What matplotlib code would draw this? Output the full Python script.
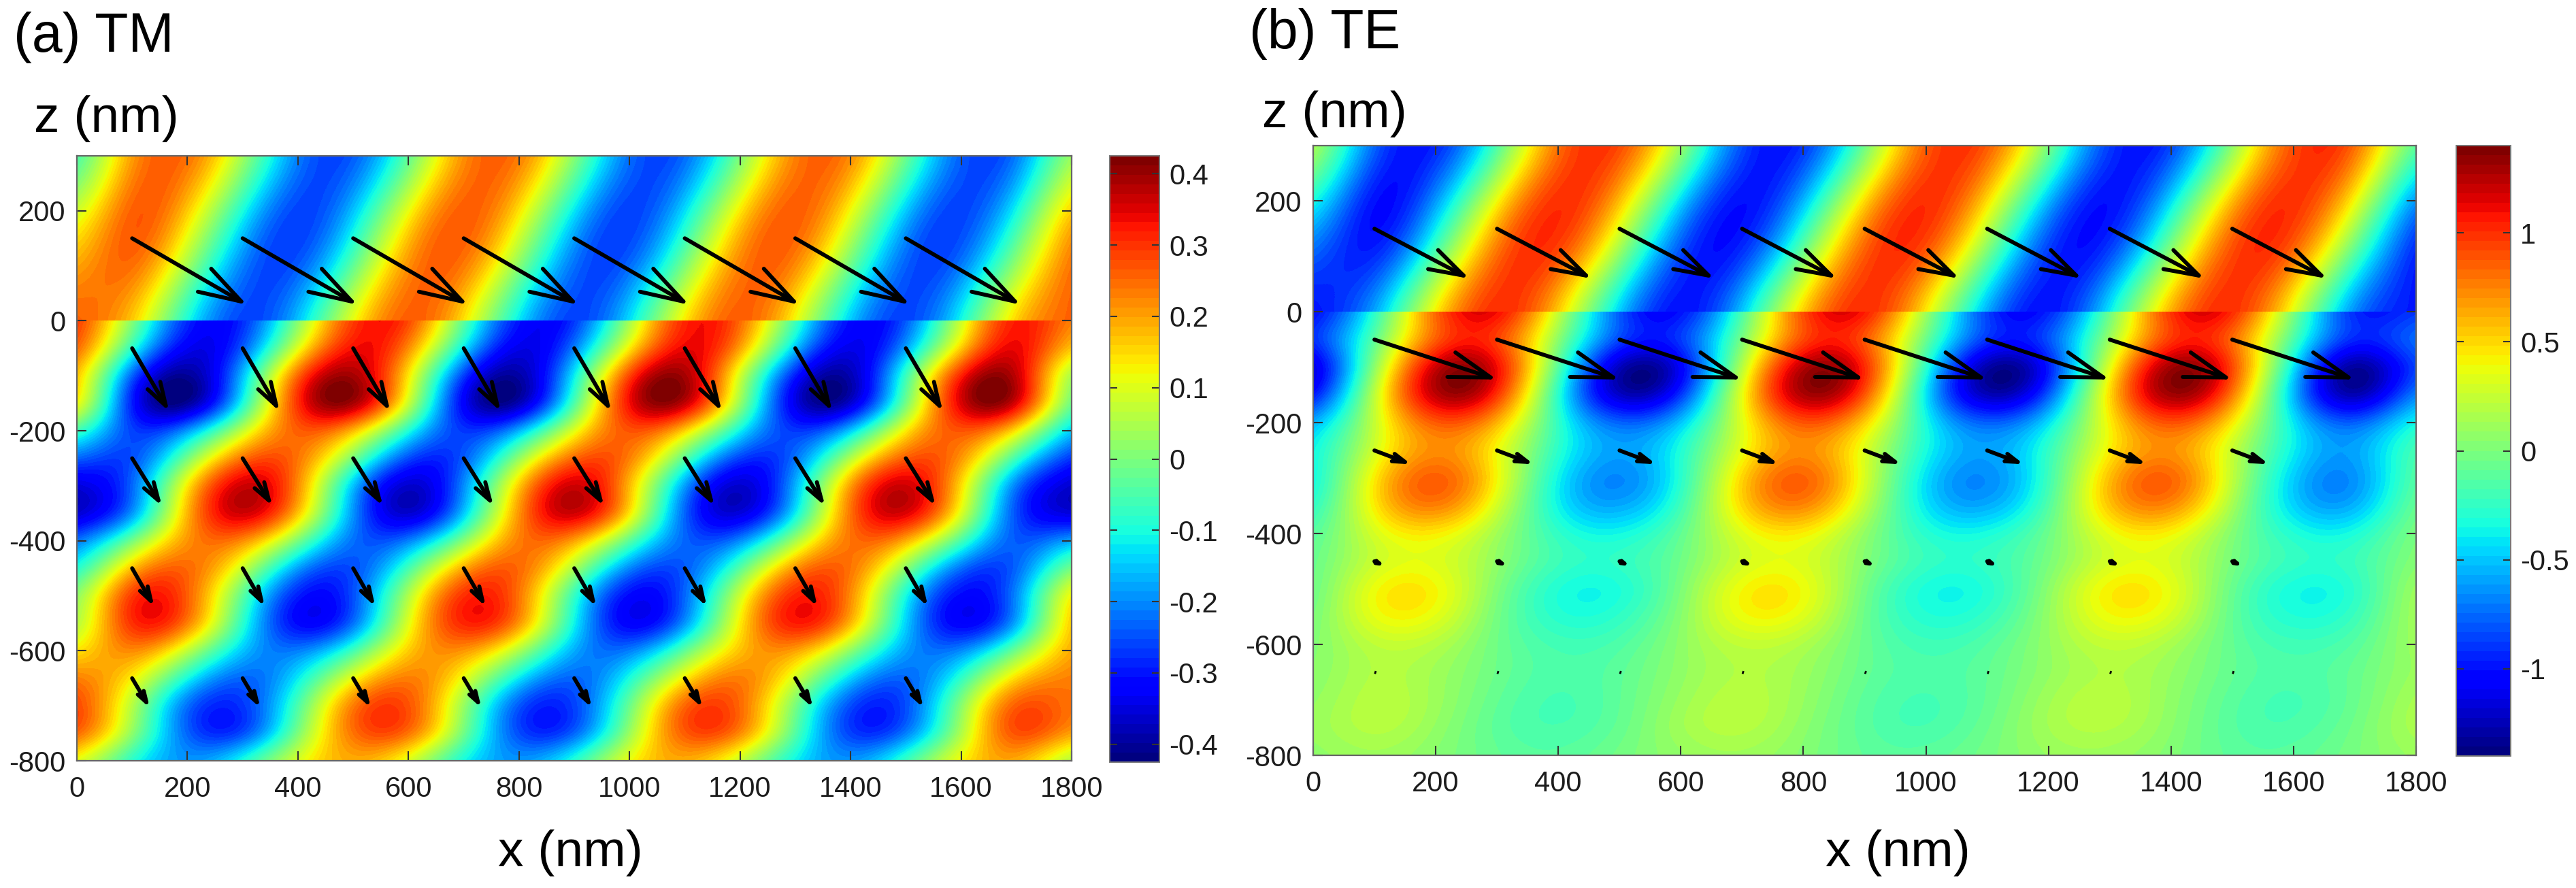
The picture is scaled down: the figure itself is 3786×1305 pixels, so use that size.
import numpy as np
import matplotlib
matplotlib.use("Agg")
import matplotlib.pyplot as plt
from matplotlib.patches import Rectangle

plt.rcParams['font.family'] = ['Liberation Sans', 'DejaVu Sans']
plt.rcParams['axes.unicode_minus'] = False

W, H = 3787, 1305

x_ticks = [0, 200, 400, 600, 800, 1000, 1200, 1400, 1600, 1800]
z_ticks = [-800, -600, -400, -200, 0, 200]
cb_ticks_a = [-0.4, -0.3, -0.2, -0.1, 0, 0.1, 0.2, 0.3, 0.4]
cb_labels_a = ['-0.4', '-0.3', '-0.2', '-0.1', '0', '0.1', '0.2', '0.3', '0.4']
cb_ticks_b = [-1, -0.5, 0, 0.5, 1]
cb_labels_b = ['-1', '-0.5', '0', '0.5', '1']

# field samples: columns x = 0..1800 step 100
# upper block rows z = 300, 200, 100, 0
tm_upper = [
 [-.05, .20, .244, .04, -.205, -.24, -.03, .213, .234, .014, -.22, -.227, .00, .227, .22, -.014, -.234, -.213, .027],
 [.082, .256, .165, -.095, -.258, -.155, .108, .259, .144, -.12, -.26, -.132, .132, .26, .12, -.144, -.259, -.108, .155],
 [.196, .244, .04, -.205, -.24, -.03, .213, .234, .014, -.22, -.227, .00, .227, .22, -.014, -.234, -.213, .027, .239],
 [.256, .165, -.095, -.258, -.155, .108, .259, .144, -.12, -.26, -.132, .132, .26, .12, -.144, -.259, -.108, .155, .258],
]
# lower block rows z = 0, -50, ..., -800
tm_lower = [
 [.29, .01, -.28, -.28, .01, .29, .28, -.03, -.30, -.27, .04, .31, .25, -.06, -.31, -.24, .08, .32, .23],
 [.25, -.08, -.33, -.24, .10, .33, .22, -.12, -.34, -.21, .13, .34, .20, -.15, -.34, -.18, .16, .34, .17],
 [.17, -.23, -.40, -.16, .25, .39, .14, -.26, -.39, -.12, .28, .39, .09, -.29, -.38, -.07, .31, .37, .05],
 [.12, -.29, -.40, -.10, .30, .39, .08, -.32, -.38, -.05, .33, .37, .03, -.34, -.36, -.01, .35, .35, -.01],
 [-.06, -.26, -.19, .07, .26, .18, -.09, -.27, -.17, .10, .27, .16, -.11, -.27, -.15, .13, .27, .14, -.14],
 [-.23, -.25, -.01, .24, .24, .00, -.25, -.24, .02, .25, .23, -.03, -.26, -.22, .05, .26, .21, -.06, -.27],
 [-.35, -.23, .13, .36, .22, -.15, -.36, -.20, .16, .36, .18, -.18, -.36, -.17, .20, .36, .15, -.21, -.36],
 [-.36, -.19, .18, .36, .17, -.19, -.36, -.15, .21, .36, .14, -.23, -.35, -.12, .24, .35, .10, -.25, -.35],
 [-.22, -.01, .21, .22, .00, -.22, -.21, .01, .23, .20, -.03, -.23, -.20, .04, .24, .19, -.05, -.24, -.18],
 [-.09, .17, .25, .08, -.18, -.25, -.06, .19, .25, .05, -.20, -.24, -.04, .21, .24, .02, -.22, -.23, -.01],
 [.02, .29, .26, -.03, -.29, -.25, .05, .30, .24, -.07, -.31, -.23, .08, .31, .22, -.10, -.31, -.20, .12],
 [.06, .30, .23, -.08, -.31, -.22, .10, .31, .21, -.11, -.32, -.19, .13, .32, .18, -.14, -.32, -.17, .16],
 [.14, .22, .07, -.15, -.21, -.06, .16, .21, .05, -.17, -.21, -.03, .17, .20, .02, -.18, -.20, -.01, .19],
 [.23, .13, -.10, -.23, -.12, .11, .23, .11, -.12, -.23, -.10, .13, .23, .09, -.14, -.23, -.08, .15, .23],
 [.28, .06, -.22, -.27, -.05, .23, .27, .03, -.24, -.26, -.02, .25, .25, .00, -.25, -.25, .01, .26, .24],
 [.25, .02, -.23, -.25, .00, .24, .24, -.01, -.25, -.23, .03, .26, .22, -.04, -.26, -.21, .05, .27, .20],
 [.11, -.08, -.19, -.10, .09, .19, .10, -.10, -.19, -.09, .11, .19, .08, -.11, -.19, -.07, .12, .19, .06],
]
te_upper = [
 [.15, -.75, -.94, -.16, .79, .92, .11, -.82, -.90, -.05, .85, .87, .00, -.87, -.85, .05, .90, .82, -.10],
 [-.33, -.99, -.62, .38, .99, .58, -.43, -1.0, -.54, .48, 1.0, .49, -.52, -1.0, -.44, .57, .99, .40, -.61],
 [-.78, -.92, -.12, .81, .90, .06, -.84, -.88, -.01, .87, .85, -.04, -.89, -.82, .10, .92, .79, -.15, -.94],
 [-.99, -.59, .42, 1.0, .54, -.47, -1.0, -.50, .52, 1.0, .45, -.56, -1.0, -.40, .61, .99, .35, -.65, -.98],
]
te_lower = [
 [-1.02, -.27, .83, 1.10, .24, -.79, -.99, -.16, .91, 1.06, .12, -.86, -.94, -.05, .98, 1.01, .00, -.92, -.89],
 [-.92, -.11, .86, .95, .06, -.85, -.88, -.01, .92, .89, -.05, -.90, -.82, .11, .97, .83, -.16, -.94, -.76],
 [-1.14, .05, 1.19, 1.10, -.12, -1.22, -1.06, .19, 1.24, 1.01, -.26, -1.27, -.97, .33, 1.29, .92, -.40, -1.30, -.86],
 [-.98, .21, 1.22, .98, -.27, -1.20, -.89, .35, 1.26, .88, -.40, -1.23, -.79, .48, 1.29, .77, -.52, -1.25, -.69],
 [-.56, .24, .87, .61, -.25, -.77, -.50, .33, .89, .53, -.33, -.78, -.43, .42, .90, .45, -.40, -.78, -.36],
 [-.36, .29, .72, .40, -.27, -.60, -.31, .36, .72, .33, -.33, -.60, -.25, .43, .71, .26, -.38, -.59, -.19],
 [-.34, .43, .85, .40, -.36, -.66, -.28, .50, .84, .31, -.42, -.65, -.21, .57, .83, .23, -.47, -.63, -.14],
 [-.25, .43, .75, .29, -.36, -.57, -.20, .49, .73, .22, -.40, -.56, -.14, .55, .71, .14, -.45, -.54, -.08],
 [-.12, .30, .44, .13, -.25, -.35, -.09, .33, .43, .08, -.28, -.33, -.05, .36, .41, .03, -.30, -.32, -.01],
 [-.06, .26, .33, .07, -.21, -.25, -.04, .28, .32, .03, -.23, -.24, -.01, .30, .30, -.01, -.24, -.22, .03],
 [-.04, .37, .40, .02, -.30, -.31, .00, .39, .38, -.02, -.32, -.29, .05, .42, .35, -.06, -.33, -.26, .10],
 [.00, .35, .34, -.02, -.28, -.25, .04, .37, .32, -.05, -.29, -.23, .08, .38, .29, -.08, -.30, -.21, .12],
 [.03, .22, .19, -.04, -.19, -.15, .06, .23, .17, -.06, -.20, -.13, .08, .24, .15, -.08, -.20, -.12, .11],
 [.05, .18, .12, -.05, -.16, -.10, .07, .18, .11, -.07, -.16, -.09, .08, .18, .09, -.08, -.16, -.07, .10],
 [.08, .20, .11, -.08, -.18, -.09, .10, .20, .09, -.10, -.18, -.08, .12, .20, .07, -.11, -.18, -.06, .14],
 [.10, .19, .08, -.10, -.17, -.07, .12, .19, .06, -.11, -.17, -.05, .13, .18, .05, -.12, -.16, -.03, .15],
 [.07, .12, .04, -.08, -.12, -.03, .08, .12, .03, -.09, -.11, -.02, .09, .11, .02, -.10, -.11, -.01, .10],
]

# arrows: tails on a regular lattice, one vector per row of tails
arrow_x = [100, 300, 500, 700, 900, 1100, 1300, 1500]
arrow_z = [150, -50, -250, -450, -650]
tm_u = [208, 67, 54, 40, 32]
tm_w = [-121, -115, -87, -70, -54]
te_u = [155, 200, 60, 18, 3]
te_w = [-90, -72, -25, -9, -1]

fig = plt.figure(figsize=(W / 100, H / 100), dpi=100, facecolor='white')
jet = plt.get_cmap('jet', 64)


def make_axes(l, t, r, b):
    return fig.add_axes([l / W, 1 - b / H, (r - l) / W, (b - t) / H])


def panel(box, cbox, upper, lower, vlim, u, w, cb_t, cb_l, ytick_pad):
    ax = make_axes(*box)
    im = ax.imshow(np.array(upper), extent=[-50, 1850, -50, 350], origin='upper', aspect='auto',
                   cmap=jet, vmin=-vlim, vmax=vlim, interpolation='spline36', interpolation_stage='data')
    im.set_clip_path(Rectangle((0, 0), 1800, 300, transform=ax.transData))
    im2 = ax.imshow(np.array(lower), extent=[-50, 1850, -825, 25], origin='upper', aspect='auto',
                    cmap=jet, vmin=-vlim, vmax=vlim, interpolation='spline36', interpolation_stage='data')
    im2.set_clip_path(Rectangle((0, -800), 1800, 800, transform=ax.transData))
    ax.set_xlim(0, 1800)
    ax.set_ylim(-800, 300)
    ax.set_xticks(x_ticks)
    ax.set_yticks(z_ticks)
    ax.tick_params(direction='in', length=10, width=1.5, top=True, right=True, color='#333333',
                   labelsize=30, labelcolor='#1c1c1c')
    ax.tick_params(axis='x', pad=16)
    ax.tick_params(axis='y', pad=ytick_pad)
    for s in ax.spines.values():
        s.set_color('#666666')
        s.set_linewidth(1.6)
    for zi, ui, wi in zip(arrow_z, u, w):
        for xi in arrow_x:
            p0 = ax.transData.transform((xi, zi))
            p1 = ax.transData.transform((xi + ui, zi + wi))
            L = np.hypot(*(p1 - p0)) * 0.72
            if L < 4:
                # vectors too short to show a head appear as small dots
                ax.plot([xi, xi + ui], [zi, zi + wi], color='black', lw=3.2, solid_capstyle='butt')
                continue
            style = f"->,head_length={L * 0.32:.2f},head_width={L * 0.10:.2f}"
            ax.annotate('', xy=(xi + ui, zi + wi), xytext=(xi, zi),
                        arrowprops=dict(arrowstyle=style, mutation_scale=1, lw=4.2, color='black',
                                        shrinkA=0, shrinkB=0))
    ax.set_xlim(0, 1800)
    ax.set_ylim(-800, 300)
    cax = make_axes(*cbox)
    cb = fig.colorbar(im, cax=cax)
    cb.set_ticks(cb_t)
    cb.set_ticklabels(cb_l)
    cb.outline.set_edgecolor('#777777')
    cb.outline.set_linewidth(1.4)
    cax.tick_params(direction='in', length=8, width=1.5, left=True, right=True, color='#333333',
                    labelsize=30, labelcolor='#1c1c1c', pad=10)
    return ax


panel((113, 229, 1575, 1118), (1631, 229, 1704, 1120), tm_upper, tm_lower, 0.425, tm_u, tm_w,
      cb_ticks_a, cb_labels_a, 12)
panel((1930, 214, 3551, 1110), (3610, 214, 3690, 1111), te_upper, te_lower, 1.40, te_u, te_w,
      cb_ticks_b, cb_labels_b, 12)


def label(x, y, s, size, ha='left'):
    fig.text(x / W, 1 - y / H, s, fontsize=size, ha=ha, va='baseline', color='black')


label(20, 76, '(a) TM', 58)
label(50, 194, 'z (nm)', 54)
label(838, 1273, 'x (nm)', 54, ha='center')
label(1836, 71, '(b) TE', 58)
label(1855, 187, 'z (nm)', 54)
label(2789, 1273, 'x (nm)', 54, ha='center')

fig.savefig('out.png', dpi=100, facecolor='white')
